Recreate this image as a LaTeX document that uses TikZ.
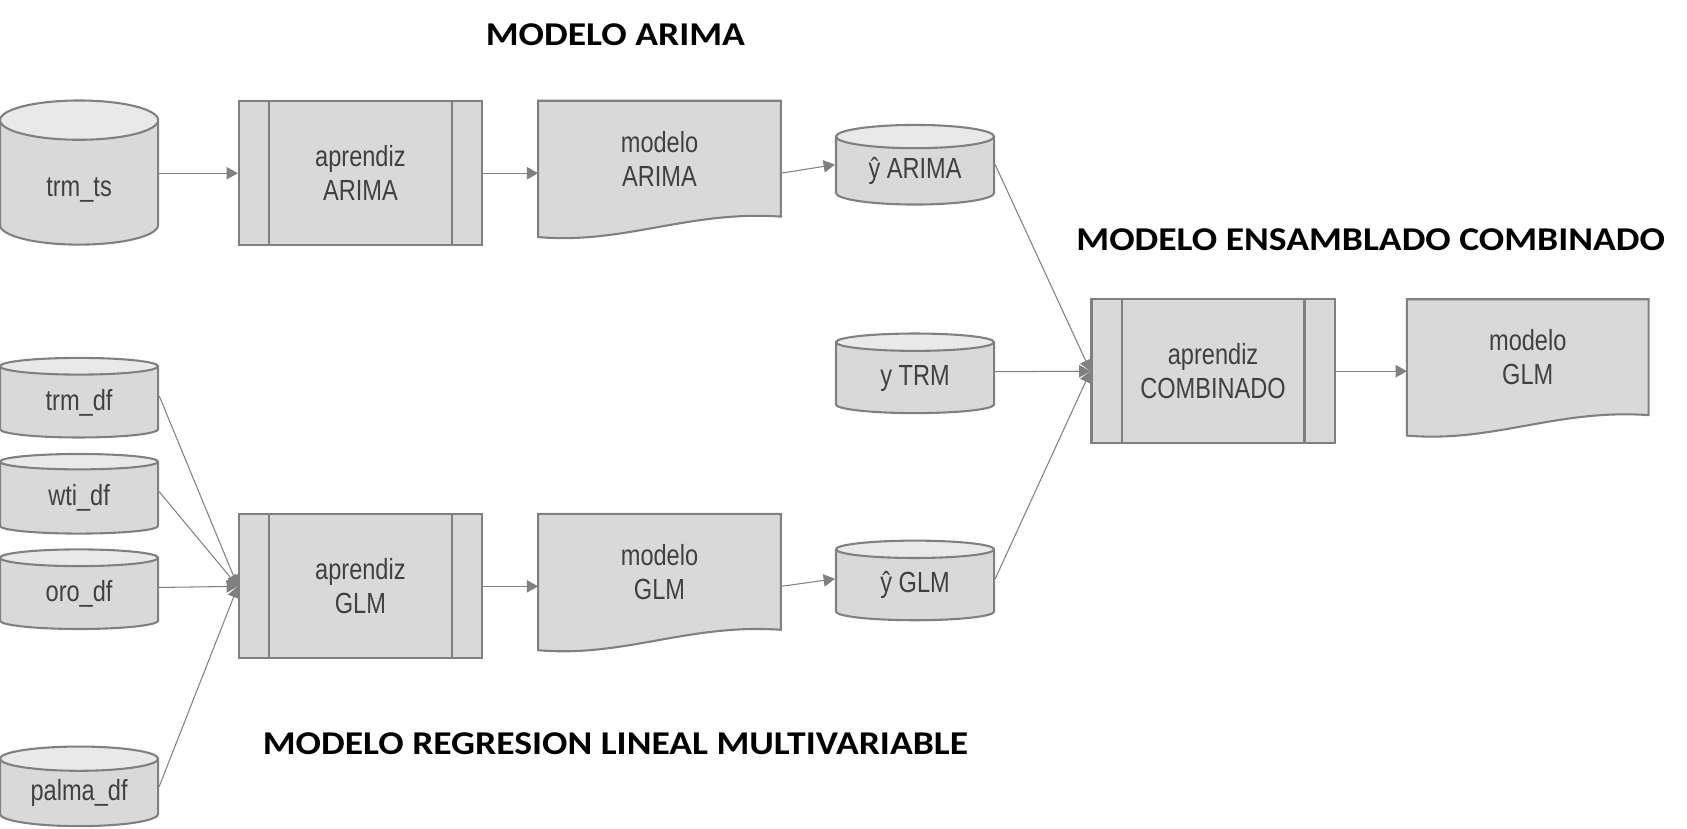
\documentclass[tikz,border=0pt]{standalone}
\usepackage{fontspec}
\usetikzlibrary{shapes.geometric,arrows.meta,backgrounds}
\setmainfont{Liberation Sans}
\newfontfamily\boxfont{Liberation Sans}[FakeStretch=0.81]
\newfontfamily\titlefont{Carlito}[FakeStretch=1.13]

\definecolor{boxgray}{HTML}{D9D9D9}
\definecolor{topgray}{HTML}{E9E9E9}
\definecolor{linegray}{HTML}{808080}
\definecolor{textgray}{HTML}{404040}

\tikzset{
  base/.style={font=\boxfont\fontsize{15.4}{18.2}\selectfont, text=textgray, align=center, inner sep=0pt},
  datastore/.style={base, cylinder, shape border rotate=90, draw=linegray, line width=1.1pt,
    cylinder uses custom fill, cylinder body fill=boxgray, cylinder end fill=topgray,
    minimum width=2.94cm, minimum height=1.48cm, aspect=0.25},
  learner/.style={base, rectangle, draw=linegray, fill=boxgray, line width=1.1pt,
    minimum width=4.52cm, minimum height=2.68cm,
    path picture={\draw[linegray, line width=1.1pt]
      ([xshift=0.56cm]path picture bounding box.north west) -- ([xshift=0.56cm]path picture bounding box.south west)
      ([xshift=-0.56cm]path picture bounding box.north east) -- ([xshift=-0.56cm]path picture bounding box.south east);}},
  document/.style={base, rectangle, minimum width=4.5cm, minimum height=2.14cm},
  title/.style={font=\titlefont\bfseries\fontsize{17.6}{20}\selectfont, inner sep=0pt},
  flow/.style={draw=linegray, line width=0.55pt, -{Triangle[length=0.21cm, width=0.23cm]}},
}

\begin{document}
\begin{tikzpicture}[x=0.02cm, y=-0.02cm]
\useasboundingbox (0,0) rectangle (1568,770);

% titulos
\node[title] (tA) at (572,32) {MODELO ARIMA};
\node[title] (tC) at (1274,223) {MODELO ENSAMBLADO COMBINADO};
\node[title] (tG) at (572,691) {MODELO REGRESION LINEAL MULTIVARIABLE};

% rama ARIMA
\node[datastore, minimum height=2.68cm, aspect=0.6, text height=0.6cm] (trmts) at (73.5,170) {trm\_ts};
\node[learner] (apA) at (335,161) {aprendiz\\ARIMA};
\node[document] (moA) at (613,147.5) {modelo\\ARIMA};
\node[datastore] (yA) at (850.5,159) {ŷ ARIMA};

% rama GLM
\node[datastore] (trmdf) at (73.5,374) {trm\_df};
\node[datastore] (wtidf) at (73.5,463) {wti\_df};
\node[datastore] (orodf) at (73.5,552) {oro\_df};
\node[datastore] (palmadf) at (73.5,737) {palma\_df};
\node[learner] (apG) at (335,545) {aprendiz\\GLM};
\node[document] (moG) at (613,531.5) {modelo\\GLM};
\node[datastore] (yG) at (850.5,544) {ŷ GLM};

% ensamble
\node[datastore] (yT) at (850.5,351.5) {y TRM};
\node[learner] (apC) at (1127.5,345) {aprendiz\\COMBINADO};
\node[document, minimum width=4.48cm] (moC) at (1420,332) {modelo\\GLM};

\begin{scope}[on background layer]
\foreach \d in {moA,moG,moC}
  \draw[linegray, fill=boxgray, line width=1.1pt] (\d.north west) -- (\d.north east) -- (\d.south east)
    .. controls ([shift={(-86,-6)}]\d.south east) and ([shift={(80,26)}]\d.south west) .. ([shift={(0,19)}]\d.south west) -- cycle;
\end{scope}

\draw[flow] (trmts.east |- apA) -- (apA);
\draw[flow] (apA) -- (apA -| moA.west);
\draw[flow] (apA -| moA.east) -- ([yshift=0.12cm]yA.west);
\draw[flow] ([yshift=0.12cm]yA.east) -- (apC.west);
\draw[flow] ([yshift=0.12cm]yT.east) -- (apC.west);
\draw[flow] ([yshift=0.12cm]yG.east) -- (apC.west);
\draw[flow] (apC) -- (apC -| moC.west);

\foreach \s in {trmdf,wtidf,orodf,palmadf}
  \draw[flow] ([yshift=0.12cm]\s.east) -- (apG.west);
\draw[flow] (apG) -- (apG -| moG.west);
\draw[flow] (apG -| moG.east) -- ([yshift=0.12cm]yG.west);

\end{tikzpicture}
\end{document}
